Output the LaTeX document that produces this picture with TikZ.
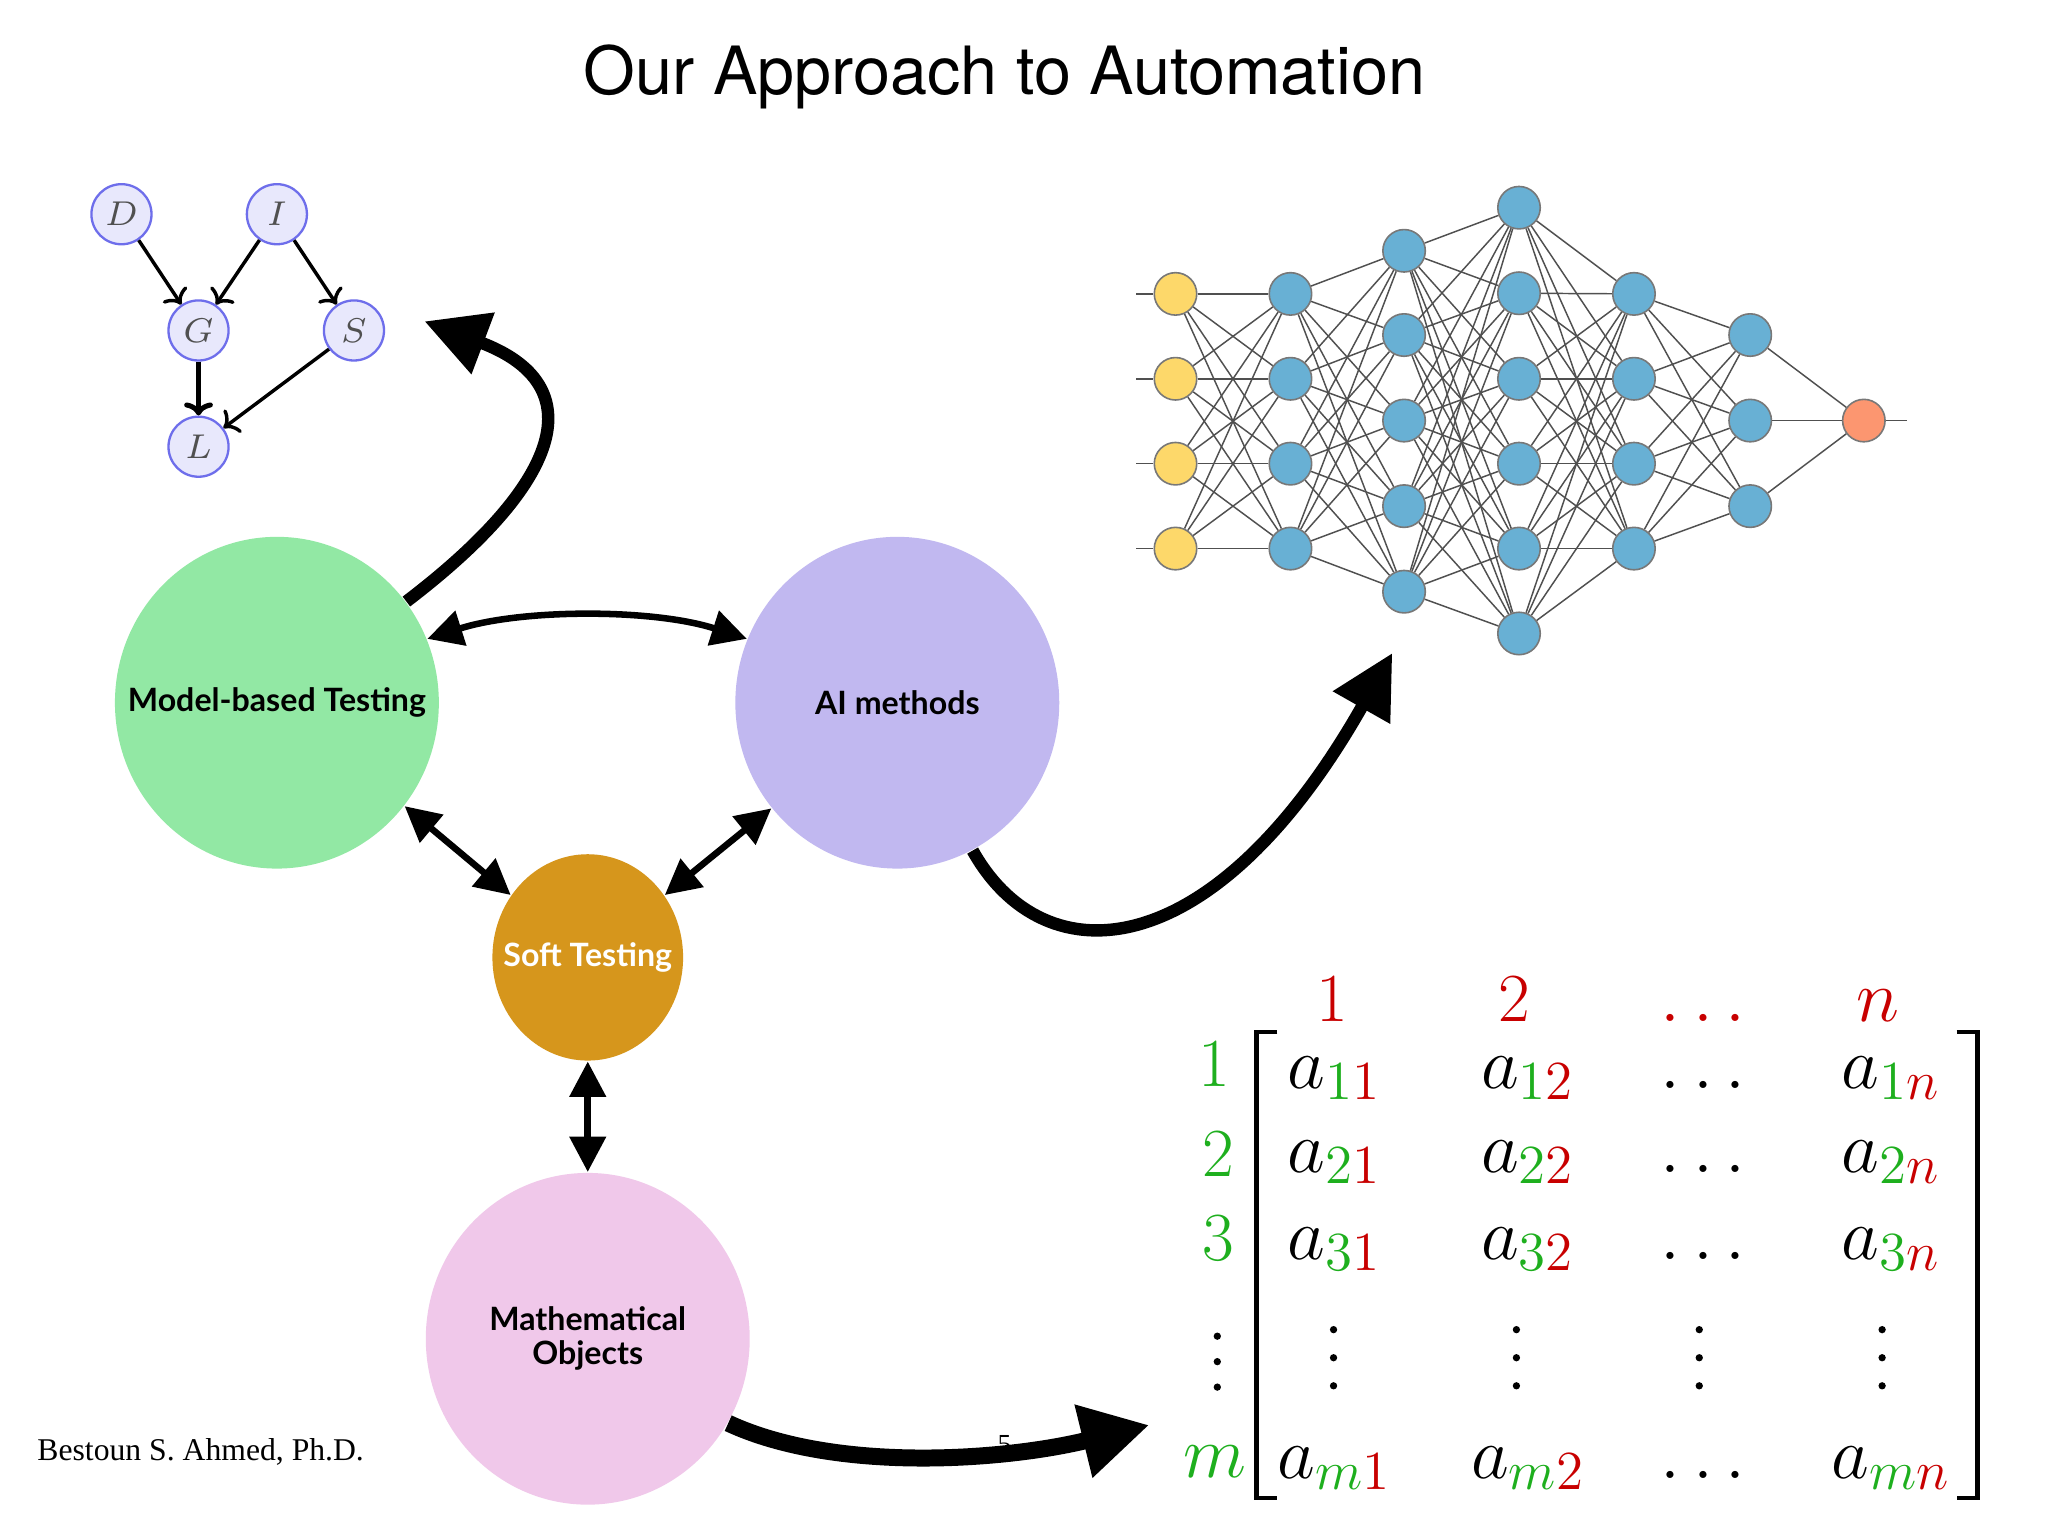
\RequirePackage{fix-cm}
\documentclass[tikz,border=0pt]{standalone}
\usepackage{fontspec}
\newfontfamily\titlefont{TeX Gyre Heros}
\newfontfamily\labelfont{Lato}
\newfontfamily\footfont{Liberation Serif}
\usetikzlibrary{shapes.geometric,arrows.meta}
\DeclareMathSizes{16}{16}{12}{9}
\definecolor{bnfill}{RGB}{232,232,252}
\definecolor{bnstroke}{RGB}{110,110,235}
\definecolor{bntext}{RGB}{80,80,80}
\definecolor{mbtc}{RGB}{146,232,164}
\definecolor{aic}{RGB}{193,184,240}
\definecolor{softc}{RGB}{214,150,28}
\definecolor{mathc}{RGB}{240,200,234}
\definecolor{nnyel}{RGB}{253,216,106}
\definecolor{nnblu}{RGB}{104,176,212}
\definecolor{nnora}{RGB}{252,150,112}
\definecolor{nnstroke}{RGB}{120,120,120}
\definecolor{nnline}{RGB}{80,80,80}
\definecolor{mgreen}{RGB}{30,175,30}
\definecolor{mred}{RGB}{200,0,0}
\begin{document}
\begin{tikzpicture}[x=0.1mm,y=-0.1mm,
  bnode/.style={circle,draw=bnstroke,fill=bnfill,line width=0.5pt,minimum size=4.6mm,inner sep=0pt,font=\fontsize{7.5}{7.5}\selectfont,text=bntext},
  bedge/.style={line width=0.75pt,-{To[length=1mm,width=2.2mm]}},
  bigc/.style={ellipse,minimum width=24.8mm,minimum height=25.4mm,inner sep=0pt},
  lbl/.style={inner sep=0pt,align=center,font=\labelfont\bfseries\fontsize{7}{7.4}\selectfont},
  bigarrow/.style={line width=0.95mm,-{Triangle[length=4.8mm,width=4.8mm]}},
  dblarrow/.style={line width=0.5mm,{Triangle[length=2.7mm,width=2.7mm]}-{Triangle[length=2.7mm,width=2.7mm]}},
  nn/.style={circle,draw=nnstroke,line width=0.35pt,minimum size=3.25mm,inner sep=0pt},
  nnedge/.style={draw=nnline,line width=0.32pt},
  mat/.style={anchor=base,inner sep=0pt,font=\fontsize{16}{16}\selectfont},
  lab/.style={anchor=base,inner sep=0pt,font=\fontsize{15}{15}\selectfont},
  vdot/.style={circle,fill=black,inner sep=0pt,minimum size=0.56mm}
]
\useasboundingbox (0,0) rectangle (1568,1176);
\fill[white] (0,0) rectangle (1568,1176);

% title
\node[anchor=base,inner sep=0pt,font=\titlefont\fontsize{14.5}{16}\selectfont] (title) at (769,72) {Our Approach to Automation};

% Bayesian network
\node[bnode] (D) at (93,164) {$D$};
\node[bnode] (I) at (212,164) {$I$};
\node[bnode] (G) at (152,253) {$G$};
\node[bnode] (S) at (271,253) {$S$};
\node[bnode] (L) at (152,342) {$L$};
\draw[bedge] (D) -- (G);
\draw[bedge] (I) -- (G);
\draw[bedge] (I) -- (S);
\draw[bedge,line width=1.1pt] (G) -- (L);
\draw[bedge] (S) -- (L);

% big circles
\node[bigc,fill=mbtc,label={[lbl]center:Model-based Testing}] (mbt) at (212,538) {};
\node[bigc,fill=aic,label={[lbl]center:AI methods}] (ai) at (687,538) {};
\node[bigc,fill=softc,minimum width=14.6mm,minimum height=15.8mm,label={[lbl,text=white]center:Soft Testing}] (soft) at (450,733) {};
\node[bigc,fill=mathc,label={[lbl]center:Mathematical\\Objects}] (math) at (450,1025) {};

% page number (mostly hidden)
\node[inner sep=0pt,font=\footfont\fontsize{6}{6}\selectfont] (pnum) at (769,1106) {5};

% connectors between circles
\draw[dblarrow] (mbt.23) .. controls (400,466) and (500,466) .. (ai.157);
\draw[dblarrow] (mbt.-39) -- (soft.141);
\draw[dblarrow] (ai.220) -- (soft.39);
\draw[dblarrow] (soft.south) -- (math.north);

% big arrows
\coordinate (tipA) at (325,246);
\coordinate (tipB) at (1066,500);
\coordinate (tipC) at (880,1091);
\draw[bigarrow] (mbt.38) .. controls (430,370) and (455,295) .. (tipA);
\draw[bigarrow] (ai.-63) .. controls (800,750) and (930,740) .. (tipB);
\draw[line width=1.3mm,-{Triangle[length=5.2mm,width=5.4mm]}] (math.-31) .. controls (640,1128) and (770,1118) .. (tipC);

% neural network
\foreach \y [count=\i] in {225,290,355,420}
  \node[nn,fill=nnyel] (A\i) at (900,\y) {};
\foreach \y [count=\i] in {225,290,355,420}
  \node[nn,fill=nnblu] (B\i) at (988,\y) {};
\foreach \y [count=\i] in {192,256.5,322,387.5,453}
  \node[nn,fill=nnblu] (C\i) at (1075,\y) {};
\foreach \y [count=\i] in {159,224.5,290,355,420,485}
  \node[nn,fill=nnblu] (E\i) at (1163,\y) {};
\foreach \y [count=\i] in {225,290,355,420}
  \node[nn,fill=nnblu] (F\i) at (1251,\y) {};
\foreach \y [count=\i] in {256.5,322,387.5}
  \node[nn,fill=nnblu] (H\i) at (1340,\y) {};
\node[nn,fill=nnora] (O) at (1427,322) {};
\foreach \y [count=\i] in {225,290,355,420}{
  \coordinate (in\i) at (870,\y);
  \draw[nnedge] (in\i) -- (A\i);
}
\coordinate (outend) at (1460,322);
\draw[nnedge] (O) -- (outend);
\foreach \i in {1,...,4}\foreach \j in {1,...,4} \draw[nnedge] (A\i) -- (B\j);
\foreach \i in {1,...,4}\foreach \j in {1,...,5} \draw[nnedge] (B\i) -- (C\j);
\foreach \i in {1,...,5}\foreach \j in {1,...,6} \draw[nnedge] (C\i) -- (E\j);
\foreach \i in {1,...,6}\foreach \j in {1,...,4} \draw[nnedge] (E\i) -- (F\j);
\foreach \i in {1,...,4}\foreach \j in {1,...,3} \draw[nnedge] (F\i) -- (H\j);
\foreach \i in {1,...,3} \draw[nnedge] (H\i) -- (O);

% matrix: brackets
\draw[line width=1pt] (978,790) -- (962,790) -- (962,1147) -- (978,1147);
\draw[line width=1pt] (1498,790) -- (1514,790) -- (1514,1147) -- (1498,1147);
% column headers
\node[lab,text=mred] (h1) at (1020,782) {1};
\node[lab,text=mred] (h2) at (1159,782) {2};
\node[mat,text=mred] (h3) at (1304,782) {$\ldots$};
\node[mat,text=mred] (hn) at (1438,782) {$n$};
% row labels
\node[lab,text=mgreen] (r1) at (930,832) {1};
\node[lab,text=mgreen] (r2) at (933,901) {2};
\node[lab,text=mgreen] (r3) at (933,965) {3};
\foreach \y [count=\k] in {1023,1042.5,1062} \node[vdot] (rv\k) at (932,\y) {};
\node[mat,text=mgreen] (rm) at (930,1131) {$m$};
% entries
\node[mat] (a11) at (1022,833) {$a_{\textcolor{mgreen}{1}\textcolor{mred}{1}}$};
\node[mat] (a12) at (1170,833) {$a_{\textcolor{mgreen}{1}\textcolor{mred}{2}}$};
\node[mat] (a13) at (1304,833) {$\ldots$};
\node[mat] (a1n) at (1448,833) {$a_{\textcolor{mgreen}{1}\textcolor{mred}{n}}$};
\node[mat] (a21) at (1022,898) {$a_{\textcolor{mgreen}{2}\textcolor{mred}{1}}$};
\node[mat] (a22) at (1170,898) {$a_{\textcolor{mgreen}{2}\textcolor{mred}{2}}$};
\node[mat] (a23) at (1304,898) {$\ldots$};
\node[mat] (a2n) at (1448,898) {$a_{\textcolor{mgreen}{2}\textcolor{mred}{n}}$};
\node[mat] (a31) at (1022,964) {$a_{\textcolor{mgreen}{3}\textcolor{mred}{1}}$};
\node[mat] (a32) at (1170,964) {$a_{\textcolor{mgreen}{3}\textcolor{mred}{2}}$};
\node[mat] (a33) at (1304,964) {$\ldots$};
\node[mat] (a3n) at (1448,964) {$a_{\textcolor{mgreen}{3}\textcolor{mred}{n}}$};
\foreach \x [count=\c] in {1021,1161,1301,1441}
  \foreach \y [count=\k] in {1018,1039.5,1061}
    \node[vdot] (v\c-\k) at (\x,\y) {};
\node[mat] (am1) at (1022,1132) {$a_{\textcolor{mgreen}{m}\textcolor{mred}{1}}$};
\node[mat] (am2) at (1170,1132) {$a_{\textcolor{mgreen}{m}\textcolor{mred}{2}}$};
\node[mat] (am3) at (1304,1132) {$\ldots$};
\node[mat] (amn) at (1448,1132) {$a_{\textcolor{mgreen}{m}\textcolor{mred}{n}}$};

% footer
\node[anchor=base west,inner sep=0pt,font=\footfont\fontsize{6.9}{7}\selectfont] (author) at (28,1118) {Bestoun S. Ahmed, Ph.D.};
\end{tikzpicture}
\end{document}
